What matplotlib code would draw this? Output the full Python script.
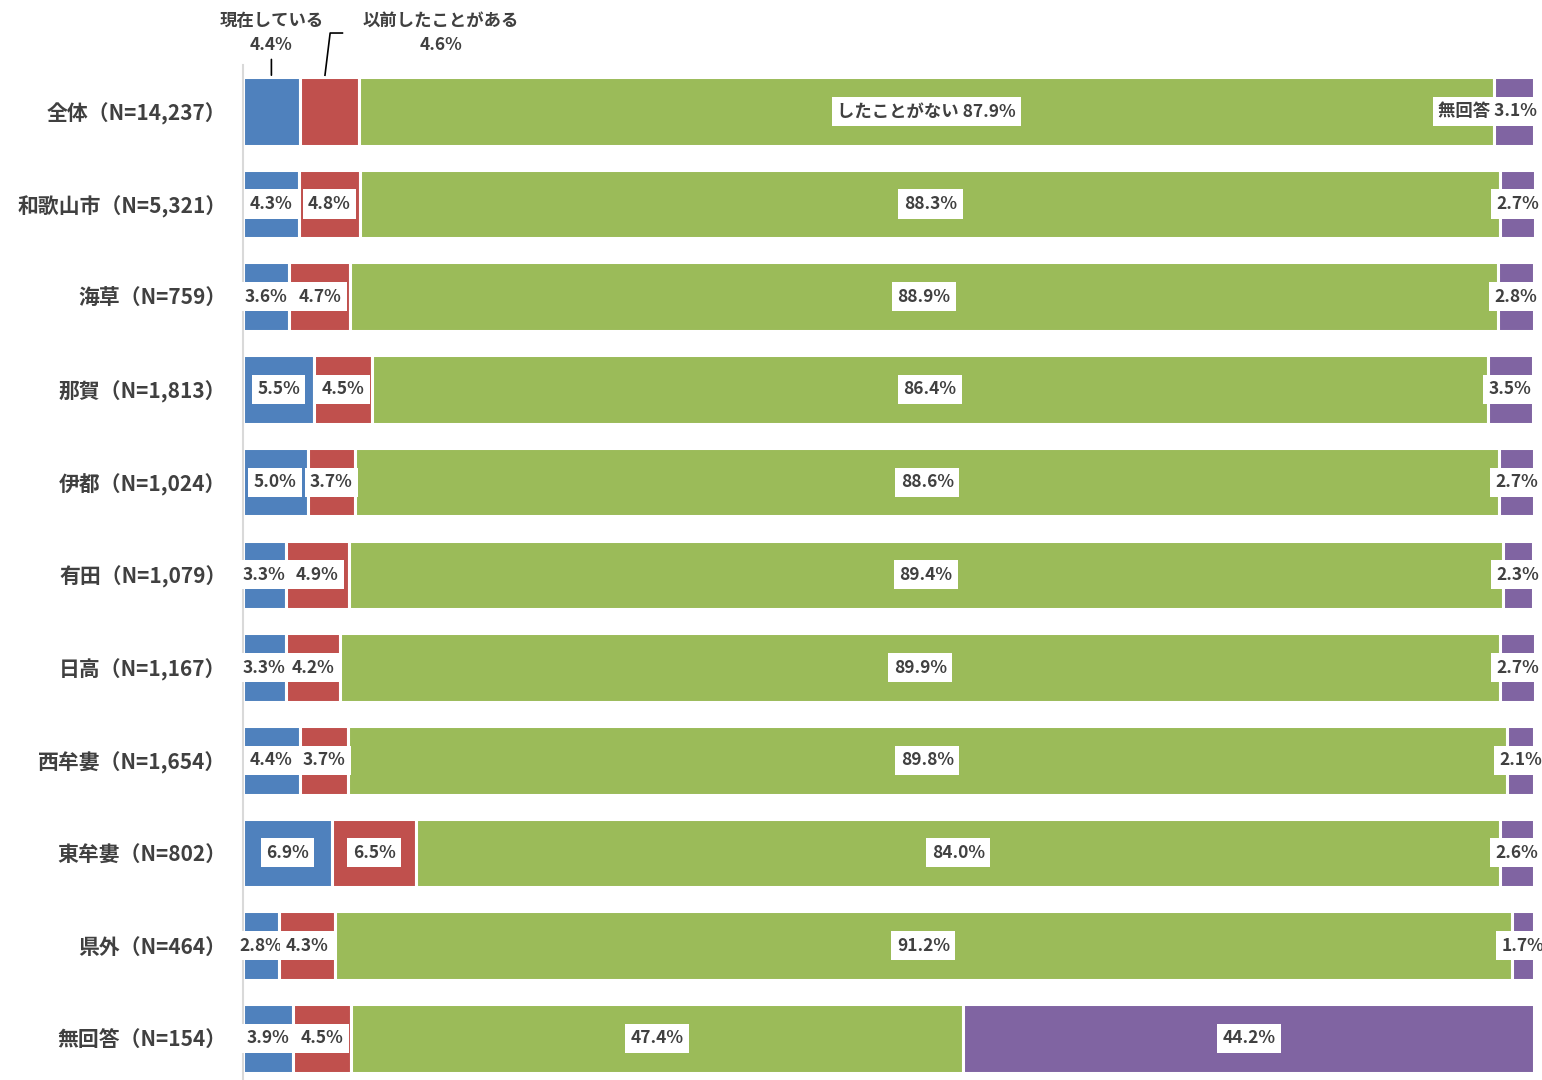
import matplotlib
matplotlib.use("Agg")
import matplotlib.pyplot as plt
import numpy as np

plt.rcParams['font.family'] = ['Noto Sans CJK JP', 'DejaVu Sans']

categories = ["全体（N=14,237）", "和歌山市（N=5,321）", "海草（N=759）", "那賀（N=1,813）",
              "伊都（N=1,024）", "有田（N=1,079）", "日高（N=1,167）", "西牟婁（N=1,654）",
              "東牟婁（N=802）", "県外（N=464）", "無回答（N=154）"]
series_names = ["現在している", "以前したことがある", "したことがない", "無回答"]
current = [4.4, 4.3, 3.6, 5.5, 5.0, 3.3, 3.3, 4.4, 6.9, 2.8, 3.9]
before = [4.6, 4.8, 4.7, 4.5, 3.7, 4.9, 4.2, 3.7, 6.5, 4.3, 4.5]
never = [87.9, 88.3, 88.9, 86.4, 88.6, 89.4, 89.9, 89.8, 84.0, 91.2, 47.4]
noans = [3.1, 2.7, 2.8, 3.5, 2.7, 2.3, 2.7, 2.1, 2.6, 1.7, 44.2]
colors = ["#4F81BD", "#C0504D", "#9BBB59", "#8064A2"]

fig = plt.figure(figsize=(15.42, 10.8), dpi=100)
ax = fig.add_axes([243/1542, 0.0, (1534-243)/1542, 1-65/1080])

data = [current, before, never, noans]
y = np.arange(len(categories))
txtc = "#404040"
fs = 12.5
left = np.zeros(len(categories))
for si, (vals, col) in enumerate(zip(data, colors)):
    vals = np.array(vals)
    ax.barh(y, vals, left=left, height=0.74, color=col, edgecolor="white", linewidth=2.2)
    for i in range(len(categories)):
        cx = left[i] + vals[i] / 2
        if i == 0 and si in (0, 1):
            continue
        if i == 0 and si == 2:
            s = f"{series_names[2]} {vals[i]:.1f}%"
        elif i == 0 and si == 3:
            ax.text(100.25, i, f"{series_names[3]} {vals[i]:.1f}%", ha="right", va="center",
                    fontsize=fs, color=txtc, fontweight="bold",
                    bbox=dict(facecolor="white", edgecolor="none", pad=4))
            continue
        else:
            s = f"{vals[i]:.1f}%"
        ax.text(cx, i, s, ha="center", va="center", fontsize=fs, color=txtc, fontweight="bold",
                bbox=dict(facecolor="white", edgecolor="none", pad=4))
    left = left + vals

# outside labels for first row
b0 = current[0] / 2
r0 = current[0] + before[0] / 2
ax.annotate(f"{series_names[0]}\n{current[0]:.1f}%", xy=(b0, -0.39), xytext=(b0, -0.62),
            ha="center", va="bottom", fontsize=fs, color=txtc, fontweight="bold",
            annotation_clip=False, linespacing=1.45,
            arrowprops=dict(arrowstyle="-", color="black", lw=1.2, shrinkA=2, shrinkB=0))
ax.text(15.3, -0.62, f"{series_names[1]}\n{before[0]:.1f}%", ha="center", va="bottom",
        fontsize=fs, color=txtc, fontweight="bold", linespacing=1.45, clip_on=False)
ax.plot([r0 - 0.35, r0 + 0.05, r0 + 1.0], [-0.39, -0.845, -0.845], color="black", lw=1.2,
        clip_on=False)

ax.set_xlim(0, 100)
ax.set_ylim(10.45, -0.5)
ax.set_yticks(y)
ax.set_yticklabels(categories, fontsize=15, color=txtc, fontweight="bold")
ax.tick_params(axis="y", length=0, pad=12)
ax.set_xticks([])
for sp in ["top", "right", "bottom"]:
    ax.spines[sp].set_visible(False)
ax.spines["left"].set_color("#D9D9D9")
ax.spines["left"].set_linewidth(1.5)

fig.savefig("out.png", dpi=100, facecolor="white")
